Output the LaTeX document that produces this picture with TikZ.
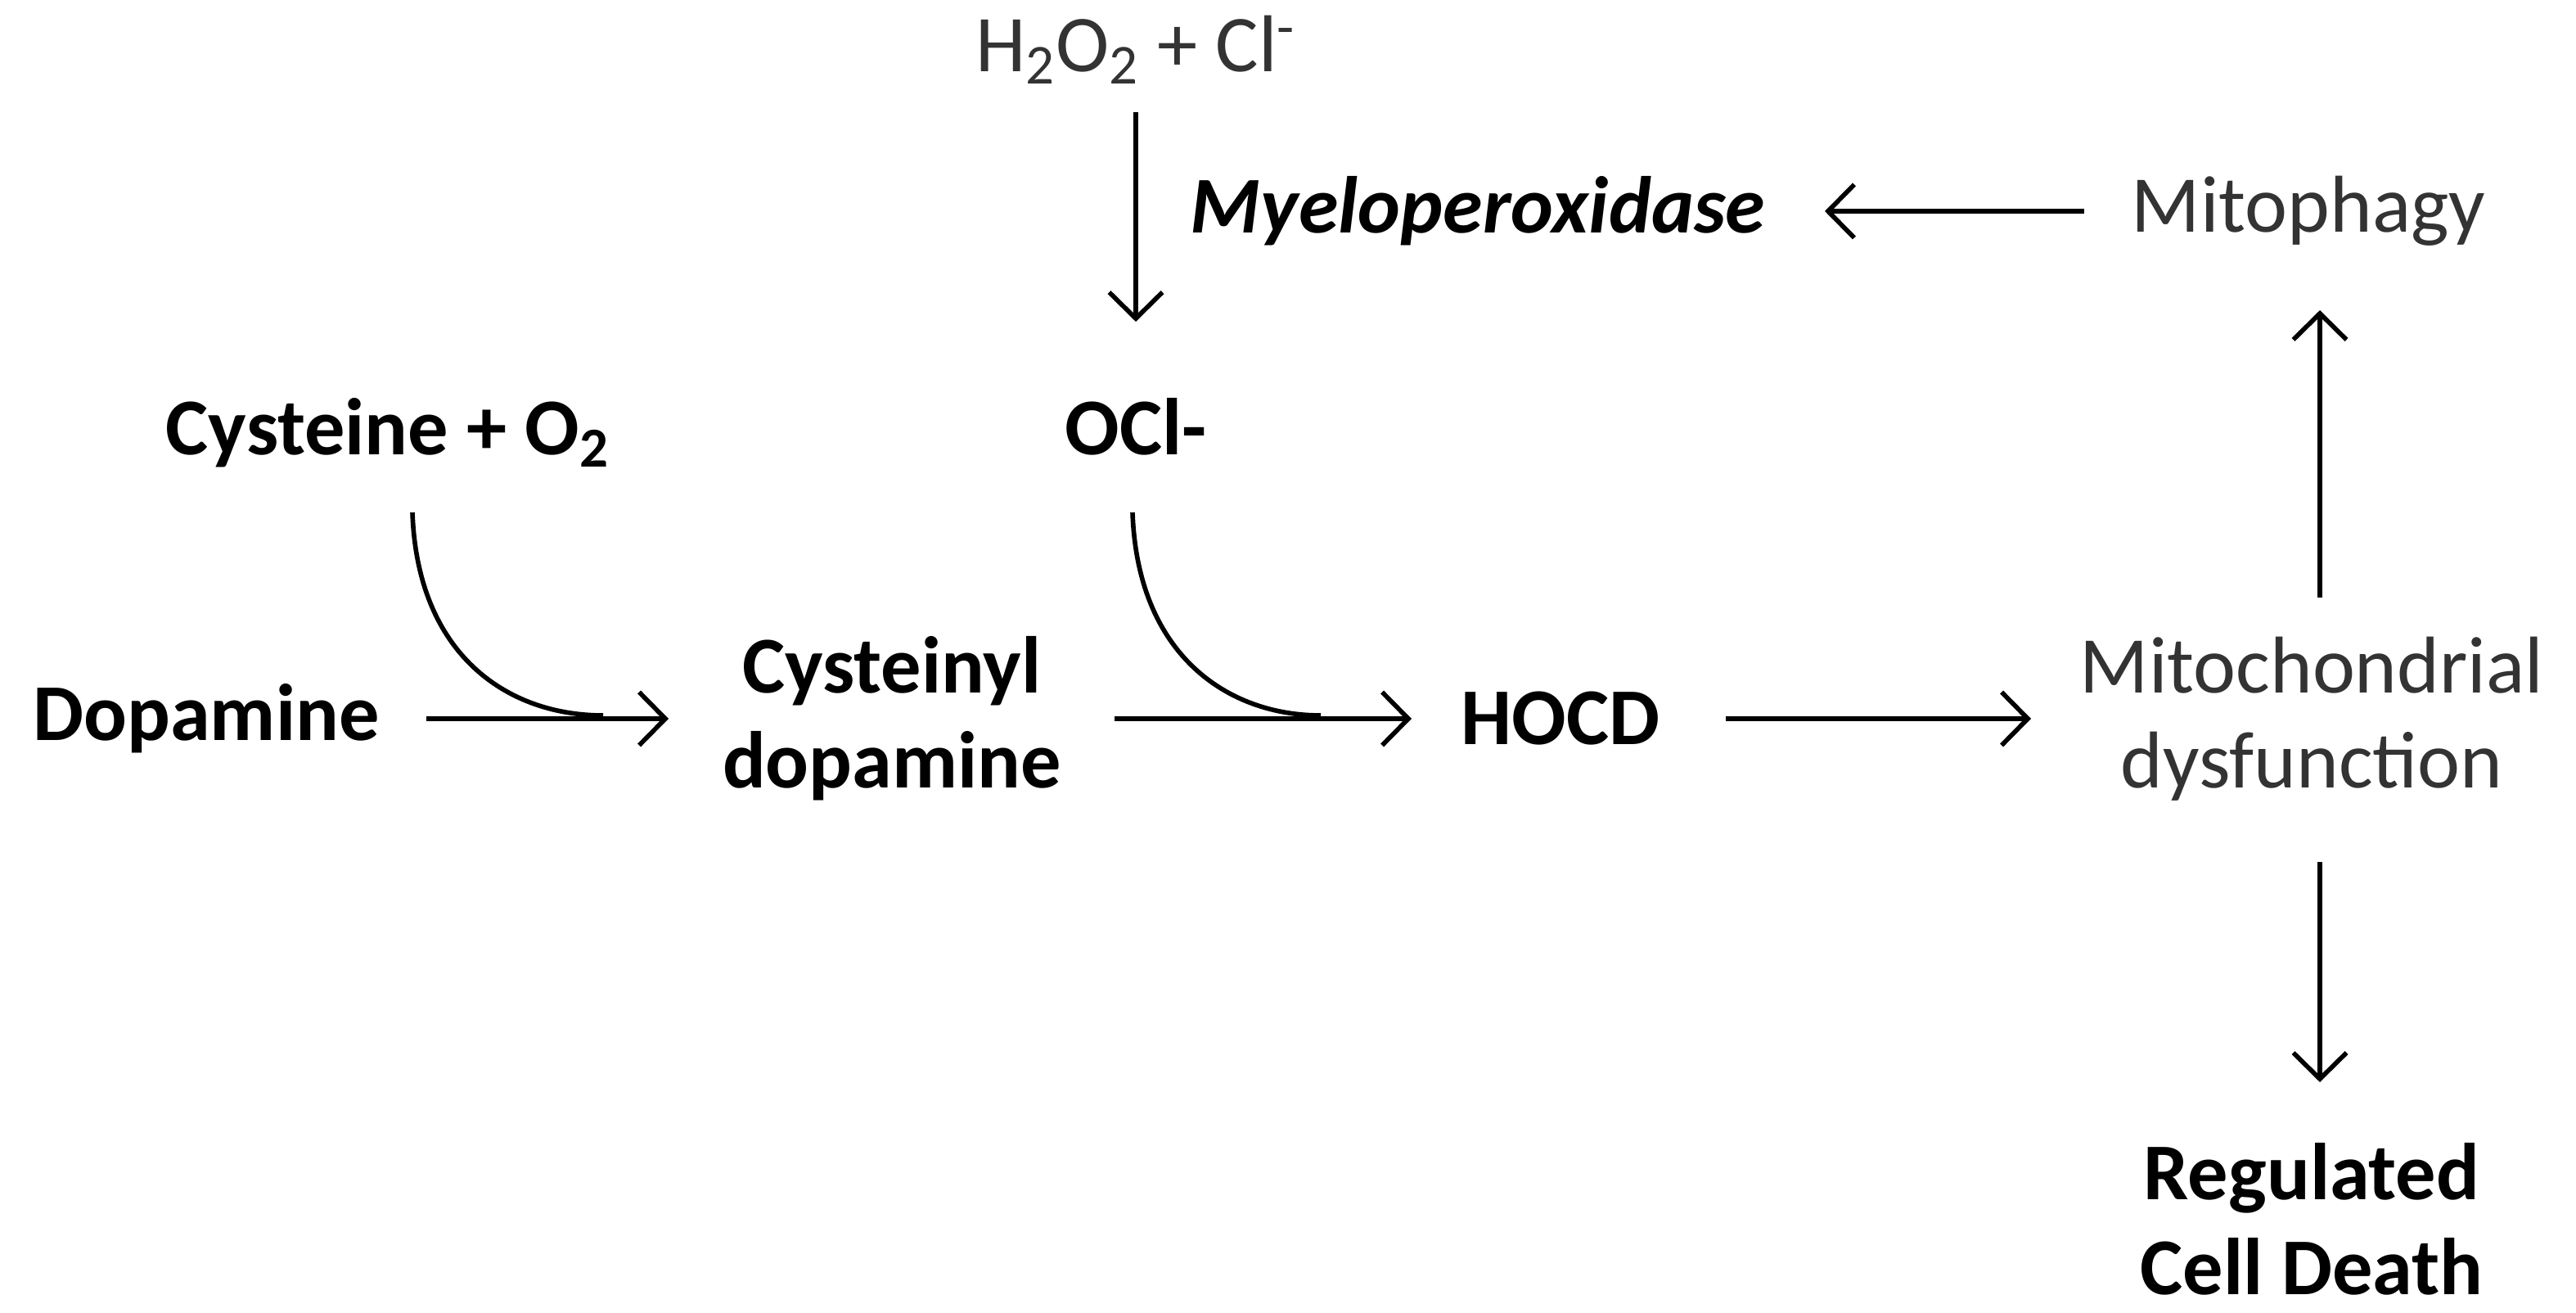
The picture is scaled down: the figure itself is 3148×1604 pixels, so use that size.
\documentclass[tikz,border=0pt]{standalone}
\usepackage{fontspec}
\setmainfont{Carlito}
\usetikzlibrary{arrows.meta}
\begin{document}
\begin{tikzpicture}[x=0.01cm,y=-0.01cm,
  bt/.style={font=\fontsize{28}{33}\selectfont\bfseries,align=center,text=black},
  rt/.style={font=\fontsize{28}{33}\selectfont,align=center,text=black!80},
  arr/.style={line width=1.6pt,-{Straight Barb[length=3.2mm,width=6.5mm,line width=1.6pt]}}]
\useasboundingbox (0,0) rectangle (3148,1604);
\node[rt] (h2o2) at (1388,61) {H\textsubscript{2}O\textsubscript{2} + Cl\textsuperscript{-}};
\node[bt,font=\fontsize{28}{33}\selectfont\bfseries\itshape] (mpo) at (1806,258) {Myeloperoxidase};
\node[rt] (mitoph) at (2821,258) {Mitophagy};
\node[bt] (ocl) at (1388,521) {OCl-};
\node[bt] (cys) at (474,529) {Cysteine + O\textsubscript{2}};
\node[bt] (dop) at (252,878) {Dopamine};
\node[bt] (cd) at (1090,878) {Cysteinyl\\dopamine};
\node[bt] (hocd) at (1907,878) {HOCD};
\node[rt] (mito) at (2825,878) {Mitochondrial\\dysfunction};
\node[bt] (rcd) at (2825,1489) {Regulated\\Cell Death};
\coordinate (a1) at (1388,137); \coordinate (a2) at (1388,393);
\draw[arr] (a1) -- (a2);
\coordinate (b1) at (2547,258); \coordinate (b2) at (2230,258);
\draw[arr] (b1) -- (b2);
\coordinate (c1) at (521,878); \coordinate (c2) at (817,878);
\draw[arr] (c1) -- (c2);
\coordinate (d1) at (1362,878); \coordinate (d2) at (1725,878);
\draw[arr] (d1) -- (d2);
\coordinate (e1) at (2109,878); \coordinate (e2) at (2482,878);
\draw[arr] (e1) -- (e2);
\coordinate (f1) at (2835,730); \coordinate (f2) at (2835,379);
\draw[arr] (f1) -- (f2);
\coordinate (g1) at (2835,1053); \coordinate (g2) at (2835,1322);
\draw[arr] (g1) -- (g2);
\coordinate (k1) at (504,626); \coordinate (k2) at (737,874);
\draw[line width=1.6pt] (k1) .. controls (510,800) and (620,874) .. (k2);
\coordinate (m1) at (1384,626); \coordinate (m2) at (1614,874);
\draw[line width=1.6pt] (m1) .. controls (1390,800) and (1500,874) .. (m2);
\end{tikzpicture}
\end{document}
